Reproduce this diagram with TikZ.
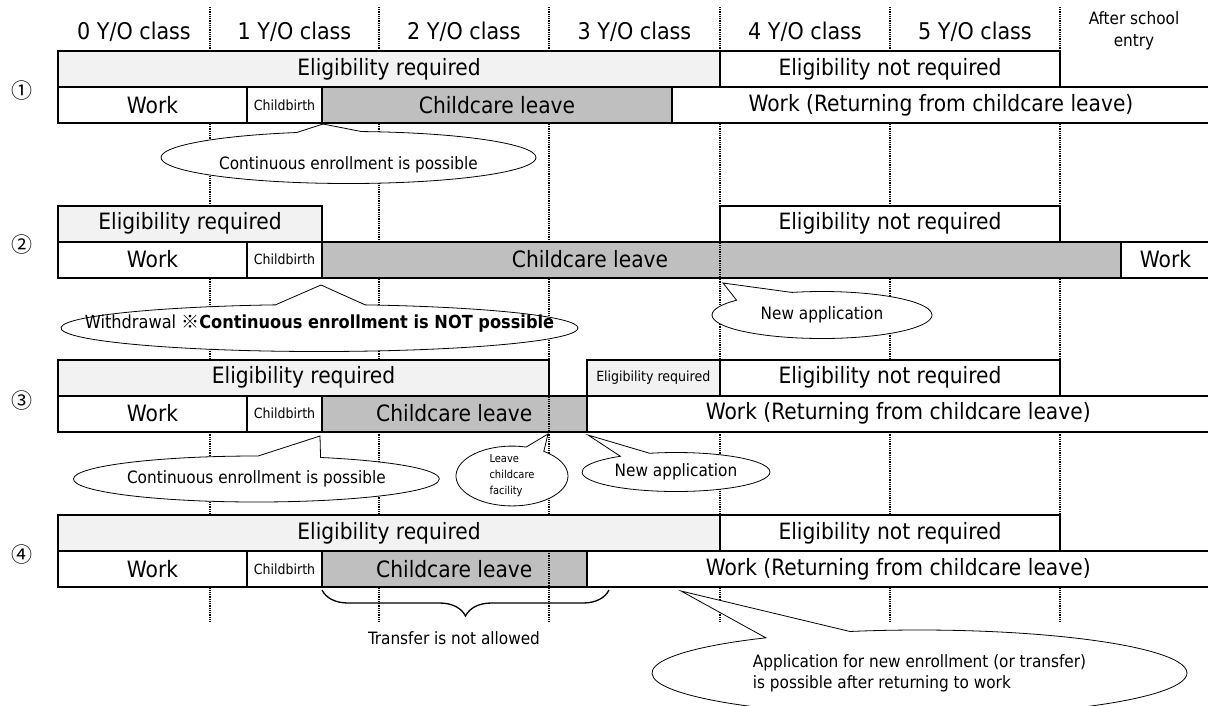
\documentclass[tikz,border=0pt]{standalone}
\usepackage{fontspec}
\IfFontExistsTF{DejaVu Sans Condensed}{\setmainfont{DejaVu Sans Condensed}}{\setmainfont{DejaVu Sans}[FakeStretch=0.9]}
\newfontfamily\cjkfont{Noto Sans CJK JP}
\usetikzlibrary{shapes.callouts,decorations.pathreplacing}
\definecolor{reqgray}{HTML}{F2F2F2}
\definecolor{leavegray}{HTML}{BFBFBF}

\begin{document}
\begin{tikzpicture}[x=1pt,y=-1pt]
\tikzset{
  headtext/.style={inner sep=0pt,font=\fontsize{23}{28}\selectfont},
  cellbox/.style={draw=black,fill=white,line width=2pt,minimum height=36pt,inner sep=0pt,font=\fontsize{22.5}{27}\selectfont},
  reqbox/.style={cellbox,fill=reqgray},
  leavebox/.style={cellbox,fill=leavegray},
  smalltext/.style={font=\fontsize{14}{17}\selectfont},
  gridline/.style={draw=black,line width=1.1pt,dash pattern=on 1pt off 0.8pt},
  bubble/.style={ellipse callout,draw=black,fill=white,line width=0.8pt,inner sep=0pt,callout pointer arc=20,font=\fontsize{17}{20.7}\selectfont},
  rownum/.style={inner sep=0pt,font=\cjkfont\fontsize{21}{23}\selectfont},
  bracket/.style={draw=black,line width=1.3pt,decorate,decoration={brace,amplitude=26pt}}
}
\useasboundingbox (0,0) rectangle (1208,705);
\foreach \x in {210,379,549,720,890,1060}
  \draw[gridline] (\x,7) -- (\x,622);

\node[headtext] (h_0) at (134,32) {0 Y/O class};
\node[headtext] (h_1) at (294.5,32) {1 Y/O class};
\node[headtext] (h_2) at (464,32) {2 Y/O class};
\node[headtext] (h_3) at (634.5,32) {3 Y/O class};
\node[headtext] (h_4) at (805,32) {4 Y/O class};
\node[headtext] (h_5) at (975,32) {5 Y/O class};
\node[inner sep=0pt,align=center,font=\fontsize{17}{21.7}\selectfont] (h_6) at (1134,31) {After school\\entry};

\node[rownum] (r_1) at (22,91) {①};
\node[rownum] (r_2) at (22,245) {②};
\node[rownum] (r_3) at (22,401) {③};
\node[rownum] (r_4) at (22,555) {④};

\node[reqbox,minimum width=662pt] (n_req_1) at (389,69) {Eligibility required};
\node[cellbox,minimum width=340pt] (n_nreq_1) at (890,69) {Eligibility not required};
\node[cellbox,minimum width=189pt] (n_work_1) at (152.5,105) {Work};
\node[cellbox,smalltext,minimum width=75pt] (n_birth_1) at (284.5,105) {Childbirth};
\node[leavebox,minimum width=350pt] (n_leave_1) at (497,105) {Childcare leave};
\node[cellbox,minimum width=538pt] (n_back_1) at (941,105) {Work (Returning from childcare leave)};

\node[reqbox,minimum width=264pt] (n_req_2) at (190,223.5) {Eligibility required};
\node[cellbox,minimum width=340pt] (n_nreq_2) at (890,223.5) {Eligibility not required};
\node[cellbox,minimum width=189pt] (n_work_2) at (152.5,259.5) {Work};
\node[cellbox,smalltext,minimum width=75pt] (n_birth_2) at (284.5,259.5) {Childbirth};
\node[leavebox,minimum width=799pt] (n_leave_2) at (721.5,259.5) {};
\node[inner sep=0pt,font=\fontsize{22.5}{27}\selectfont] (n_leavetext_2) at (590,259.5) {Childcare leave};
\node[cellbox,minimum width=89pt] (n_back_2) at (1165.5,259.5) {Work};

\node[reqbox,minimum width=491pt] (n_req_3) at (303.5,377.5) {Eligibility required};
\node[reqbox,smalltext,minimum width=133.3pt] (n_sreq_3) at (653.3,377.5) {Eligibility required};
\node[cellbox,minimum width=340pt] (n_nreq_3) at (890,377.5) {Eligibility not required};
\node[cellbox,minimum width=189pt] (n_work_3) at (152.5,413.5) {Work};
\node[cellbox,smalltext,minimum width=75pt] (n_birth_3) at (284.5,413.5) {Childbirth};
\node[leavebox,minimum width=264.7pt] (n_leave_3) at (454.3,413.5) {Childcare leave};
\node[cellbox,minimum width=623.3pt] (n_back_3) at (898.3,413.5) {Work (Returning from childcare leave)};

\node[reqbox,minimum width=662pt] (n_req_4) at (389,533) {Eligibility required};
\node[cellbox,minimum width=340pt] (n_nreq_4) at (890,533) {Eligibility not required};
\node[cellbox,minimum width=189pt] (n_work_4) at (152.5,569) {Work};
\node[cellbox,smalltext,minimum width=75pt] (n_birth_4) at (284.5,569) {Childbirth};
\node[leavebox,minimum width=264.7pt] (n_leave_4) at (454.3,569) {Childcare leave};
\node[cellbox,minimum width=623.3pt] (n_back_4) at (898.3,569) {Work (Returning from childcare leave)};

\draw[gridline] (720,241.5) -- (720,277.5);
\draw[gridline] (549,395.5) -- (549,431.5);
\draw[gridline] (549,551) -- (549,587);

\coordinate (p_cont_3) at (320,436);
\coordinate (p_out_2) at (321,285);
\coordinate (p_new_2) at (723,283);
\coordinate (p_leave_3) at (548,434);
\coordinate (p_new_3) at (588,435);
\coordinate (p_apply_4) at (681,591);

\node[bubble,minimum width=375pt,minimum height=52pt,text height=28pt,text depth=4pt,callout absolute pointer={(n_birth_1.south east)}] (c_cont_1) at (348.5,157.5) {Continuous enrollment is possible};
\node[bubble,minimum width=517pt,minimum height=47pt,text height=13pt,text depth=13pt,font=\fontsize{18}{21}\selectfont,callout absolute pointer={(p_out_2)}] (c_out_2) at (319.5,328) {\makebox[0pt]{Withdrawal {\cjkfont ※}\textbf{Continuous enrollment is NOT possible}}};
\node[bubble,minimum width=220pt,minimum height=47pt,callout pointer arc=35,callout absolute pointer={(p_new_2)}] (c_new_2) at (822,315) {New application};
\node[bubble,minimum width=360pt,minimum height=46pt,callout absolute pointer={(p_cont_3)}] (c_cont_3) at (256.4,479) {Continuous enrollment is possible};
\node[bubble,minimum width=112pt,minimum height=52pt,align=left,font=\fontsize{11}{16}\selectfont,callout absolute pointer={(p_leave_3)}] (c_leave_3) at (512,476) {Leave\\childcare\\facility};
\node[bubble,minimum width=188pt,minimum height=39pt,callout absolute pointer={(p_new_3)}] (c_new_3) at (676,472) {New application};
\node[bubble,minimum width=535pt,minimum height=86pt,align=left,callout absolute pointer={(p_apply_4)}] (c_apply_4) at (919.5,673) {Application for new enrollment (or transfer)\\is possible after returning to work};

\draw[bracket] (609,590) -- (322,590);
\node[inner sep=0pt,font=\fontsize{17}{20}\selectfont] (n_transfer) at (454,638) {Transfer is not allowed};
\end{tikzpicture}
\end{document}
